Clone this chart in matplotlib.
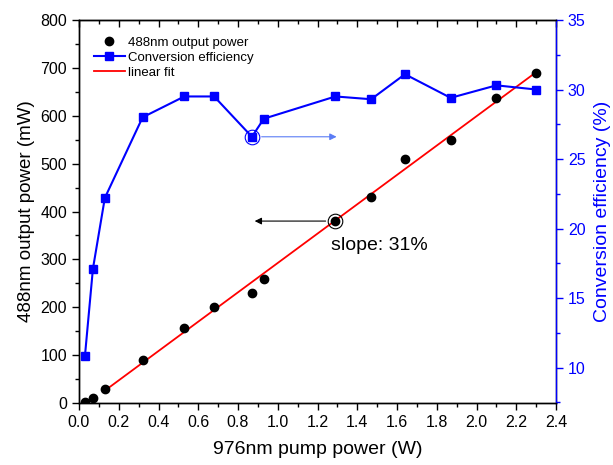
import matplotlib.pyplot as plt
import numpy as np
from matplotlib.ticker import MultipleLocator

plt.rcParams['font.family'] = ['Liberation Sans', 'DejaVu Sans']

# data
pump_w = [0.03, 0.07, 0.13, 0.32, 0.53, 0.68, 0.87, 0.93, 1.29, 1.47, 1.64, 1.87, 2.10, 2.30]
out_mw = [3, 11, 30, 89, 157, 200, 230, 260, 380, 430, 510, 550, 637, 690]
eff_pct = [10.85, 17.1, 22.2, 28.0, 29.5, 29.5, 26.6, 27.9, 29.5, 29.3, 31.1, 29.4, 30.3, 30.0]

# linear fit over points from 0.13 W on
fit_x = np.array(pump_w[2:])
fit_y = np.array(out_mw[2:])
k, b = np.polyfit(fit_x, fit_y, 1)
line_x = np.array([fit_x[0], fit_x[-1]])

fig = plt.figure(figsize=(6.13, 4.65), dpi=100)
ax = fig.add_axes([79 / 613, 1 - 403 / 465, 477 / 613, 383 / 465])
ax2 = ax.twinx()

fit_line, = ax.plot(line_x, k * line_x + b, color='red', lw=1.3, zorder=2)
dots, = ax.plot(pump_w, out_mw, 'o', color='black', ms=6, zorder=3)
eff_line, = ax2.plot(pump_w, eff_pct, '-s', color='blue', lw=1.5, ms=6, zorder=3)

ax.set_xlim(0, 2.4)
ax.set_ylim(0, 800)
ax2.set_ylim(7.45, 35)

ax.xaxis.set_major_locator(MultipleLocator(0.2))
ax.xaxis.set_minor_locator(MultipleLocator(0.1))
ax.yaxis.set_major_locator(MultipleLocator(100))
ax.yaxis.set_minor_locator(MultipleLocator(50))
ax2.yaxis.set_major_locator(MultipleLocator(5))
ax2.yaxis.set_minor_locator(MultipleLocator(2.5))

ax.tick_params(which='major', direction='out', length=5, width=1, labelsize=11.5)
ax.tick_params(which='minor', direction='out', length=3, width=1)
ax2.tick_params(which='major', direction='out', length=5, width=1, labelsize=11.5,
                colors='blue')
ax2.tick_params(which='minor', direction='out', length=3, width=1, colors='blue')
for s in ax.spines.values():
    s.set_linewidth(1)
for s in ax2.spines.values():
    s.set_linewidth(1)
ax2.spines['right'].set_color('blue')

# top ticks pointing in
top = ax.secondary_xaxis('top')
top.xaxis.set_major_locator(MultipleLocator(0.2))
top.xaxis.set_minor_locator(MultipleLocator(0.1))
top.tick_params(which='major', direction='in', length=5, width=1, labeltop=False)
top.tick_params(which='minor', direction='in', length=3, width=1)

ax.set_xticklabels([f'{v:.1f}' for v in ax.get_xticks()])

ax.set_xlabel('976nm pump power (W)', fontsize=14, labelpad=8)
ax.set_ylabel('488nm output power (mW)', fontsize=13.5)
ax2.set_ylabel('Conversion efficiency (%)', fontsize=14, color='blue', labelpad=6)

# annotation circles and arrows
ax2.plot([0.87], [26.6], 'o', mfc='none', mec='blue', ms=10.5, mew=0.8, zorder=4)
ax2.annotate('', xy=(1.31, 26.6), xytext=(0.905, 26.6),
             arrowprops=dict(arrowstyle='-|>', color='#5b7cf5', lw=0.8,
                             mutation_scale=10))
ax.plot([1.29], [380], 'o', mfc='none', mec='black', ms=10.5, mew=0.8, zorder=4)
ax.annotate('', xy=(0.87, 380), xytext=(1.255, 380),
            arrowprops=dict(arrowstyle='-|>', color='black', lw=0.8,
                            mutation_scale=10))
ax.text(1.27, 330, 'slope: 31%', fontsize=14, va='center')

ax.legend([dots, eff_line, fit_line],
          ['488nm output power', 'Conversion efficiency', 'linear fit'],
          loc='upper left', bbox_to_anchor=(0.0, 0.995), frameon=False,
          fontsize=9.5, handlelength=2.4, handletextpad=0.25,
          labelspacing=0.22, borderpad=0.6)

fig.savefig('out.png', dpi=100)
